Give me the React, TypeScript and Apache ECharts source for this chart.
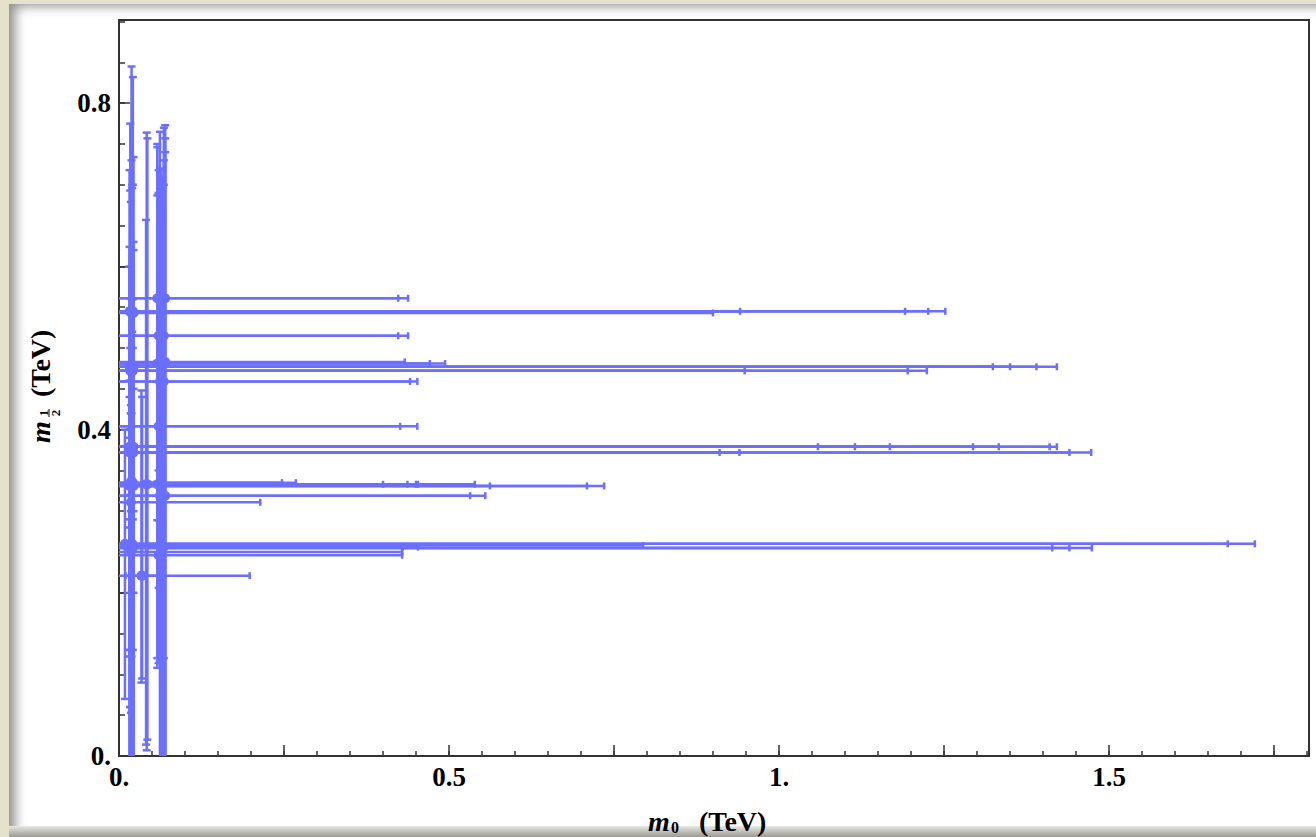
import React, { useEffect, useRef } from "react";
import * as echarts from "echarts";

// error-bar points: centre (m0, m12) and error ranges
const m0 = [
  0.070, 0.058, 0.068, 0.060, 0.066, 0.058, 0.070, 0.062, 0.068, 0.064, 0.060, 0.066, 0.058, 0.070, 0.062, 0.068, 0.060, 0.064,
  0.019, 0.021, 0.017, 0.022, 0.016, 0.020, 0.018, 0.022, 0.016, 0.019, 0.021, 0.017, 0.020, 0.016, 0.022, 0.018, 0.021, 0.017,
  0.019, 0.016, 0.022, 0.018, 0.020, 0.017, 0.021, 0.019, 0.016, 0.022, 0.018, 0.020, 0.017, 0.021, 0.019, 0.016, 0.022, 0.018,
  0.042, 0.043, 0.041, 0.034, 0.035, 0.009,
];
const m12 = [
  0.561, 0.561, 0.515, 0.515, 0.481, 0.481, 0.483, 0.459, 0.459, 0.404, 0.404, 0.333, 0.333, 0.319, 0.319, 0.256, 0.246, 0.256,
  0.545, 0.545, 0.545, 0.543, 0.545, 0.477, 0.477, 0.477, 0.477, 0.472, 0.472, 0.472, 0.379, 0.379, 0.379, 0.379, 0.379, 0.379,
  0.379, 0.372, 0.372, 0.372, 0.372, 0.335, 0.335, 0.331, 0.331, 0.331, 0.311, 0.260, 0.260, 0.255, 0.255, 0.255, 0.258, 0.250,
  0.333, 0.333, 0.333, 0.221, 0.221, 0.260,
];
const m0Lo = [
  -0.01, -0.01, -0.01, -0.01, -0.01, -0.01, -0.01, -0.01, -0.01, -0.01, -0.01, -0.01, -0.01, -0.01, -0.01, -0.01, -0.01, -0.01,
  -0.01, -0.01, -0.01, -0.01, -0.01, -0.01, -0.01, -0.01, -0.01, -0.01, -0.01, -0.01, -0.01, -0.01, -0.01, -0.01, -0.01, -0.01,
  -0.01, -0.01, -0.01, -0.01, -0.01, -0.01, -0.01, -0.01, -0.01, -0.01, -0.01, -0.01, -0.01, -0.01, -0.01, -0.01, -0.01, -0.01,
  -0.01, -0.01, -0.01, -0.01, 0.010, 0.009,
];
const m0Hi = [
  0.438, 0.423, 0.438, 0.423, 0.494, 0.471, 0.433, 0.452, 0.441, 0.452, 0.426, 0.453, 0.437, 0.555, 0.532, 0.453, 0.429, 0.430,
  1.252, 1.226, 0.941, 0.900, 1.191, 1.421, 1.390, 1.350, 1.324, 1.224, 1.195, 0.948, 1.421, 1.410, 1.333, 1.294, 1.168, 1.115,
  1.059, 1.473, 1.440, 0.940, 0.910, 0.268, 0.247, 0.735, 0.709, 0.562, 0.214, 1.721, 1.680, 1.474, 1.440, 1.414, 0.794, 0.429,
  0.539, 0.400, 0.450, 0.198, 0.060, 0.009,
];
const m12Lo = [
  -0.05, 0.120, -0.05, 0.114, -0.05, 0.108, -0.05, -0.05, 0.120, -0.05, 0.350, -0.05, 0.289, -0.05, 0.212, -0.05, 0.206, 0.114,
  -0.05, 0.130, 0.060, -0.05, 0.122, -0.05, 0.053, -0.05, 0.130, -0.05, -0.05, 0.060, -0.05, 0.290, -0.05, 0.300, -0.05, 0.320,
  0.340, -0.05, 0.300, 0.310, -0.05, -0.05, 0.290, -0.05, 0.280, -0.05, 0.200, -0.05, 0.130, -0.05, 0.122, -0.05, 0.200, -0.05,
  0.007, 0.020, 0.014, 0.090, 0.095, 0.070,
];
const m12Hi = [
  0.773, 0.746, 0.770, 0.718, 0.697, 0.687, 0.740, 0.765, 0.700, 0.720, 0.690, 0.710, 0.750, 0.757, 0.345, 0.730, 0.289, 0.703,
  0.845, 0.832, 0.775, 0.734, 0.718, 0.696, 0.679, 0.630, 0.624, 0.730, 0.700, 0.693, 0.700, 0.440, 0.620, 0.460, 0.560, 0.400,
  0.420, 0.600, 0.450, 0.430, 0.520, 0.500, 0.380, 0.560, 0.390, 0.480, 0.420, 0.560, 0.400, 0.500, 0.380, 0.460, 0.330, 0.420,
  0.764, 0.757, 0.657, 0.448, 0.440, 0.400,
];

const COLOR = "#6b6fff";
const SERIF = "'Liberation Serif', 'Times New Roman', serif";

export default function App() {
  const ref = useRef<HTMLDivElement>(null);
  useEffect(() => {
    if (!ref.current) return;
    const chart = echarts.init(ref.current, null, { renderer: "svg" });
    const data = m0.map((v, i) => [v, m12[i], m0Lo[i], m0Hi[i], m12Lo[i], m12Hi[i]]);
    const tickStyle = { color: "#333", width: 1.5 };
    const xFmt = (v: number) => {
      const k = Math.round(v * 100);
      if (k % 50 !== 0) return "";
      return k % 100 === 0 ? k / 100 + "." : String(k / 100);
    };
    const yFmt = (v: number) => {
      const k = Math.round(v * 100);
      if (k % 40 !== 0) return "";
      return k === 0 ? "0." : String(k / 100);
    };
    const labelStyle = { fontFamily: SERIF, fontWeight: "bold" as const, fontSize: 27, color: "#000" };
    chart.setOption({
      animation: false,
      backgroundColor: "transparent",
      grid: { left: 119, top: 20, width: 1190, height: 736, show: true, borderColor: "#333", borderWidth: 2, backgroundColor: "transparent" },
      xAxis: [
        {
          type: "value", min: 0, max: 1.803, interval: 0.05,
          axisLine: { show: true, lineStyle: { color: "#333", width: 2 } },
          axisTick: { show: true, inside: true, length: 5, lineStyle: tickStyle },
          axisLabel: { show: false }, splitLine: { show: false },
        },
        {
          type: "value", min: 0, max: 1.803, interval: 0.25, position: "bottom",
          axisLine: { show: false },
          axisTick: { show: true, inside: true, length: 11, lineStyle: tickStyle },
          axisLabel: { show: true, formatter: xFmt, margin: 7, ...labelStyle }, splitLine: { show: false },
        },
      ],
      yAxis: [
        {
          type: "value", min: 0, max: 0.902, interval: 0.05,
          axisLine: { show: true, lineStyle: { color: "#333", width: 2 } },
          axisTick: { show: true, inside: true, length: 6, lineStyle: tickStyle },
          axisLabel: { show: false }, splitLine: { show: false },
        },
        {
          type: "value", min: 0, max: 0.902, interval: 0.2, position: "left",
          axisLine: { show: false },
          axisTick: { show: true, inside: true, length: 11, lineStyle: tickStyle },
          axisLabel: { show: true, formatter: yFmt, margin: 8, ...labelStyle }, splitLine: { show: false },
        },
      ],
      series: [
        {
          type: "custom",
          coordinateSystem: "cartesian2d",
          xAxisIndex: 0,
          yAxisIndex: 0,
          clip: true,
          data,
          encode: { x: [0, 2, 3], y: [1, 4, 5] },
          renderItem: (params: any, api: any) => {
            const x = api.value(0), y = api.value(1);
            const c = api.coord([x, y]);
            const l = api.coord([api.value(2), y]);
            const r = api.coord([api.value(3), y]);
            const b = api.coord([x, api.value(4)]);
            const t = api.coord([x, api.value(5)]);
            const st = { stroke: COLOR, lineWidth: 2.5 };
            const cap = 3.5;
            const children: any[] = [];
            if (Math.abs(r[0] - l[0]) > 0.5) {
              children.push({ type: "line", shape: { x1: l[0], y1: c[1], x2: r[0], y2: c[1] }, style: st });
              children.push({ type: "line", shape: { x1: l[0], y1: c[1] - cap, x2: l[0], y2: c[1] + cap }, style: st });
              children.push({ type: "line", shape: { x1: r[0], y1: c[1] - cap, x2: r[0], y2: c[1] + cap }, style: st });
            }
            children.push({ type: "line", shape: { x1: c[0], y1: b[1], x2: c[0], y2: t[1] }, style: st });
            children.push({ type: "line", shape: { x1: c[0] - 4, y1: b[1], x2: c[0] + 4, y2: b[1] }, style: st });
            children.push({ type: "line", shape: { x1: c[0] - 4, y1: t[1], x2: c[0] + 4, y2: t[1] }, style: st });
            children.push({ type: "circle", shape: { cx: c[0], cy: c[1], r: 5 }, style: { fill: COLOR } });
            return { type: "group", children };
          },
        },
      ],
      graphic: [
        { type: "text", x: 648, y: 821, style: { text: "m", fontFamily: SERIF, fontStyle: "italic", fontWeight: "bold", fontSize: 28, fill: "#000", verticalAlign: "middle" } },
        { type: "text", x: 671, y: 827, style: { text: "0", fontFamily: SERIF, fontWeight: "bold", fontSize: 16, fill: "#000", verticalAlign: "middle" } },
        { type: "text", x: 699, y: 821, style: { text: "(TeV)", fontFamily: SERIF, fontWeight: "bold", fontSize: 28, fill: "#000", verticalAlign: "middle" } },
        {
          type: "group", x: 40, y: 443, rotation: Math.PI / 2,
          children: [
            { type: "text", x: 0, y: 0, style: { text: "m", fontFamily: SERIF, fontStyle: "italic", fontWeight: "bold", fontSize: 28, fill: "#000", verticalAlign: "middle" } },
            { type: "text", x: 30, y: 3, style: { text: "1", fontFamily: SERIF, fontWeight: "bold", fontSize: 13, fill: "#000", align: "center", verticalAlign: "middle" } },
            { type: "line", shape: { x1: 26, y1: 9, x2: 34, y2: 9 }, style: { stroke: "#000", lineWidth: 1 } },
            { type: "text", x: 30, y: 15, style: { text: "2", fontFamily: SERIF, fontWeight: "bold", fontSize: 13, fill: "#000", align: "center", verticalAlign: "middle" } },
            { type: "text", x: 46, y: 0, style: { text: "(TeV)", fontFamily: SERIF, fontWeight: "bold", fontSize: 28, fill: "#000", verticalAlign: "middle" } },
          ],
        },
      ],
    });
    return () => chart.dispose();
  }, []);

  return (
    <div style={{ position: "absolute", left: 0, top: 0, width: 1316, height: 837, background: "#e5e1cb", overflow: "hidden" }}>
      <div style={{ position: "absolute", left: 9, top: 4, width: 1330, height: 823, background: "#ffffff", boxShadow: "inset 12px 8px 12px -6px rgba(0,0,0,0.45)" }} />
      <div style={{ position: "absolute", left: 9, top: 826, width: 1330, height: 11, background: "linear-gradient(#e8e8e4, #9a9a92)" }} />
      <div ref={ref} style={{ position: "absolute", left: 0, top: 0, width: 1316, height: 837 }} />
    </div>
  );
}
